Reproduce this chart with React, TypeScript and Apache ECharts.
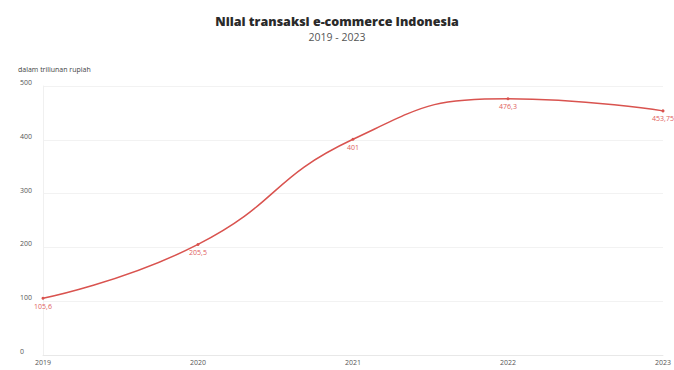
import React, { useEffect, useRef } from "react";
import * as echarts from "echarts";

const years = ["2019", "2020", "2021", "2022", "2023"];
const values = [105.6, 205.5, 401, 476.3, 453.75];
const valueLabels = ["105,6", "205,5", "401", "476,3", "453,75"];

export default function App() {
  const ref = useRef<HTMLDivElement>(null);
  useEffect(() => {
    document.body.style.margin = "0";
    const chart = echarts.init(ref.current!, null, { renderer: "svg" });
    chart.setOption({
      animation: false,
      backgroundColor: "#ffffff",
      title: {
        text: "Nilai transaksi e-commerce Indonesia",
        subtext: "2019 - 2023",
        left: "center",
        top: 9,
        itemGap: 3,
        textStyle: { fontFamily: "Open Sans", fontSize: 12.5, fontWeight: 800, color: "#2a2a2a", lineHeight: 14 },
        subtextStyle: { fontFamily: "Open Sans", fontSize: 10.5, color: "#555", lineHeight: 12 },
      },
      graphic: [
        {
          type: "text",
          left: 18,
          top: 66,
          style: { text: "dalam triliunan rupiah", fontFamily: "Open Sans", fontSize: 7, fill: "#444" },
        },
      ],
      grid: { left: 43, right: 4, top: 86, bottom: 15 },
      xAxis: {
        type: "category",
        data: years,
        boundaryGap: false,
        axisLine: { lineStyle: { color: "#e8e8e8" } },
        axisTick: { show: false },
        axisLabel: {
          fontFamily: "Open Sans",
          fontSize: 7,
          color: "#555555",
          margin: 4,
          alignMinLabel: "center",
          alignMaxLabel: "center",
        },
      },
      yAxis: {
        type: "value",
        min: 0,
        max: 500,
        interval: 100,
        axisLine: { show: true, lineStyle: { color: "#f0f0f0" } },
        axisTick: { show: false },
        splitLine: { lineStyle: { color: "#f2f2f2" } },
        axisLabel: {
          fontFamily: "Open Sans",
          fontSize: 7,
          color: "#555555",
          align: "left",
          margin: 23,
          verticalAlign: "bottom",
        },
      },
      series: [
        {
          type: "line",
          data: values,
          smooth: true,
          symbol: "circle",
          symbolSize: 3,
          lineStyle: { color: "#d9534f", width: 1.5 },
          itemStyle: { color: "#d9534f" },
          label: {
            show: true,
            position: "bottom",
            distance: 3,
            fontFamily: "Open Sans",
            fontSize: 7,
            color: "#e0605c",
            formatter: (p: any) => valueLabels[p.dataIndex],
          },
        },
      ],
    });
    return () => chart.dispose();
  }, []);
  return <div ref={ref} style={{ width: 674, height: 370 }} />;
}
